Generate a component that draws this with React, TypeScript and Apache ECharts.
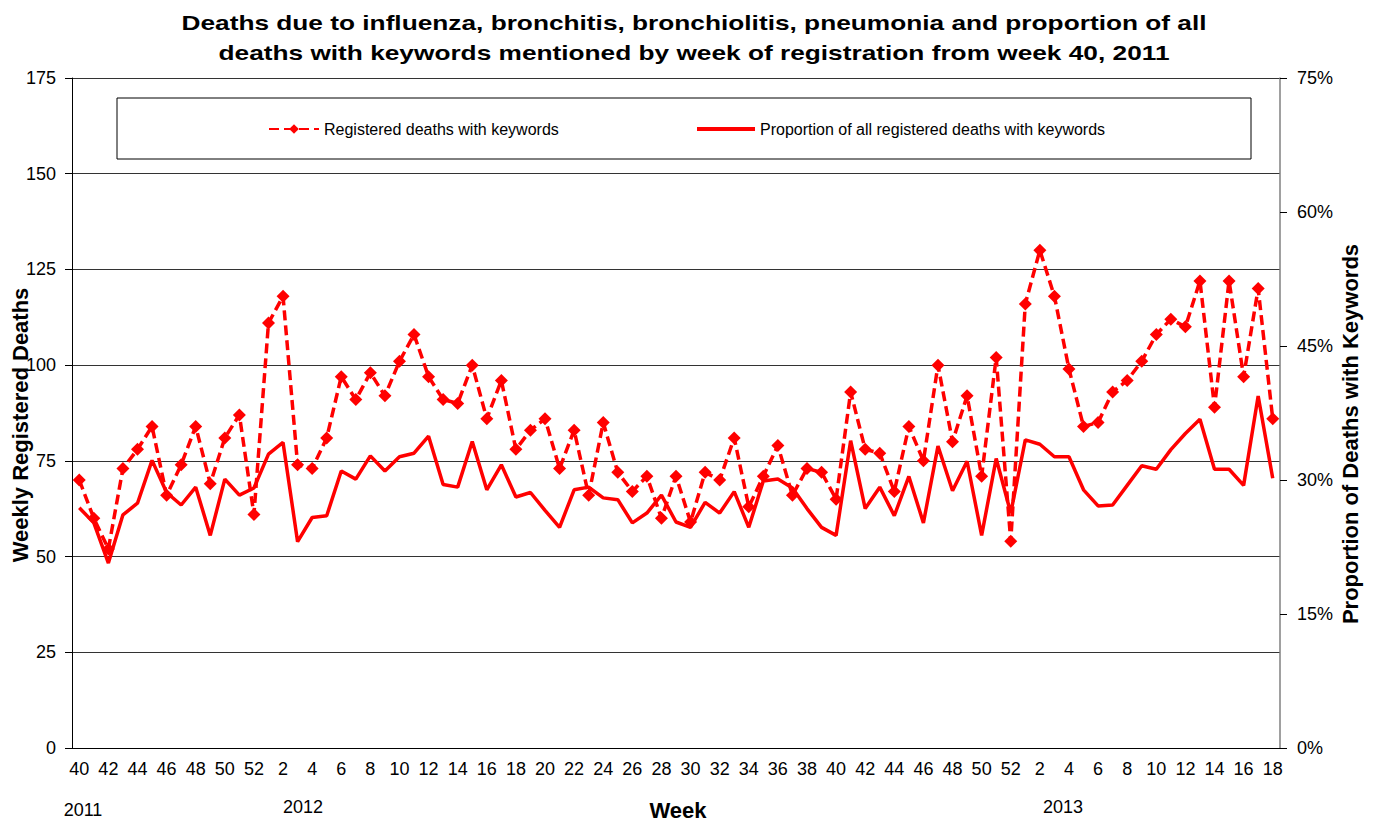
import React, { useEffect, useRef } from "react";
import * as echarts from "echarts";

const weeks2011 = [40, 41, 42, 43, 44, 45, 46, 47, 48, 49, 50, 51, 52];
const weeks2012 = Array.from({ length: 52 }, (_, i) => i + 1);
const weeks2013 = [1, 2, 3, 4, 5, 6, 7, 8, 9, 10, 11, 12, 13, 14, 15, 16, 17, 18];
const categories = [...weeks2011, ...weeks2012, ...weeks2013].map(String);

const deathsWithKeywords = [
  70, 60, 52, 73, 78, 84, 66, 74, 84, 69, 81, 87, 61,
  111, 118, 74, 73, 81, 97, 91, 98, 92, 101, 108, 97, 91, 90, 100,
  86, 96, 78, 83, 86, 73, 83, 66, 85, 72, 67, 71, 60,
  71, 59, 72, 70, 81, 63, 71, 79, 66, 73, 72, 65, 93, 78,
  77, 67, 84, 75, 100, 80, 92, 71, 102, 54,
  116, 130, 118, 99, 84, 85, 93, 96, 101, 108, 112, 110, 122, 89, 122, 97, 120, 86,
];

const proportionWithKeywords = [
  26.9, 25.2, 20.7, 26.1, 27.4, 32.2, 28.6, 27.2, 29.2, 23.8, 30.1, 28.3, 29.1,
  32.9, 34.2, 23.1, 25.8, 26.0, 31.0, 30.1, 32.7, 31.0, 32.6, 33.0, 34.9, 29.5, 29.2, 34.3,
  28.9, 31.7, 28.1, 28.6, 26.6, 24.7, 28.9, 29.2, 28.0, 27.8, 25.2, 26.3, 28.3,
  25.3, 24.7, 27.5, 26.3, 28.7, 24.7, 29.9, 30.1, 29.1, 26.8, 24.7, 23.8, 34.4, 26.8,
  29.2, 26.0, 30.4, 25.2, 33.8, 28.8, 32.1, 23.8, 32.4, 26.3,
  34.5, 34.0, 32.6, 32.6, 28.9, 27.1, 27.2, 29.4, 31.6, 31.2, 33.4, 35.2, 36.8, 31.2, 31.2, 29.4, 39.4, 30.2,
];

const titleLines = [
  "Deaths due to influenza, bronchitis, bronchiolitis, pneumonia and proportion of all",
  "deaths with keywords mentioned by week of registration from week 40, 2011",
];
const yearLabels = ["2011", "2012", "2013"];
const seriesNames = [
  "Registered deaths with keywords",
  "Proportion of all registered deaths with keywords",
];

const FONT = '"Liberation Sans", Arial, Helvetica, sans-serif';

export default function App() {
  const ref = useRef<HTMLDivElement>(null);

  useEffect(() => {
    document.body.style.margin = "0";
    if (!ref.current) return;
    const chart = echarts.init(ref.current, null, { renderer: "svg" });

    const txt = (text: string, x: number, y: number, size: number, bold: boolean, extra: any = {}) => ({
      type: "text",
      x,
      y,
      z: 10,
      ...extra,
      style: {
        text,
        font: `${bold ? "bold " : ""}${size}px ${FONT}`,
        fill: "#000",
        textAlign: "center",
        align: "center",
        textVerticalAlign: "middle",
        verticalAlign: "middle",
      },
    });

    chart.setOption({
      animation: false,
      backgroundColor: "#fff",
      textStyle: { fontFamily: FONT },
      grid: { left: 72, right: 95, top: 78, bottom: 73 },
      legend: [
        {
          data: [seriesNames[0]],
          left: 268,
          top: 121,
          padding: 0,
          itemWidth: 50,
          itemHeight: 12,
          textStyle: { fontSize: 16, color: "#000", fontFamily: FONT },
        },
        {
          data: [{ name: seriesNames[1], icon: "rect" }],
          left: 697,
          top: 121,
          padding: 0,
          itemWidth: 58,
          itemHeight: 4,
          textStyle: { fontSize: 16, color: "#000", fontFamily: FONT },
        },
      ],
      xAxis: {
        type: "category",
        data: categories,
        boundaryGap: true,
        axisLine: { lineStyle: { color: "#000", width: 1 } },
        axisTick: { interval: 1, length: 6, lineStyle: { color: "#000" } },
        axisLabel: { interval: 1, fontSize: 18, color: "#000", margin: 12, fontFamily: FONT },
        splitLine: { show: false },
      },
      yAxis: [
        {
          type: "value",
          min: 0,
          max: 175,
          interval: 25,
          axisLine: { show: true, lineStyle: { color: "#000", width: 1 } },
          axisTick: { show: true, length: 7, lineStyle: { color: "#000" } },
          axisLabel: { fontSize: 18, color: "#000", margin: 16, fontFamily: FONT },
          splitLine: { show: true, lineStyle: { color: "#333", width: 1 } },
        },
        {
          type: "value",
          min: 0,
          max: 75,
          interval: 15,
          position: "right",
          axisLine: { show: true, lineStyle: { color: "#808080", width: 1.5 } },
          axisTick: { show: true, length: 7, lineStyle: { color: "#000" } },
          axisLabel: { fontSize: 18, color: "#000", margin: 17, formatter: "{value}%", fontFamily: FONT },
          splitLine: { show: false },
        },
      ],
      graphic: [
        {
          type: "rect",
          z: 1,
          shape: { x: 117, y: 98, width: 1134, height: 61 },
          style: { fill: "#fff", stroke: "#000", lineWidth: 1 },
        },
        txt(titleLines[0], 694, 22, 21, true, { scaleX: 1.25 }),
        txt(titleLines[1], 694, 52, 21, true, { scaleX: 1.25 }),
        txt("Weekly Registered Deaths", 20, 425, 22, true, { rotation: Math.PI / 2 }),
        txt("Proportion of Deaths with Keywords", 1350, 434, 22, true, { rotation: Math.PI / 2 }),
        txt("Week", 678, 810, 22, true),
        txt(yearLabels[0], 83, 810, 18, false),
        txt(yearLabels[1], 303, 807, 18, false),
        txt(yearLabels[2], 1063, 807, 18, false),
      ],
      series: [
        {
          name: seriesNames[0],
          type: "line",
          yAxisIndex: 0,
          data: deathsWithKeywords,
          symbol: "diamond",
          symbolSize: 13,
          showAllSymbol: true,
          itemStyle: { color: "#ff0000" },
          lineStyle: { color: "#ff0000", width: 3.5, type: [10, 5] },
          z: 3,
        },
        {
          name: seriesNames[1],
          type: "line",
          yAxisIndex: 1,
          data: proportionWithKeywords,
          symbol: "none",
          showSymbol: false,
          itemStyle: { color: "#ff0000" },
          lineStyle: { color: "#ff0000", width: 3.5 },
          z: 2,
        },
      ],
    });

    return () => chart.dispose();
  }, []);

  return <div ref={ref} style={{ width: 1375, height: 821 }} />;
}
